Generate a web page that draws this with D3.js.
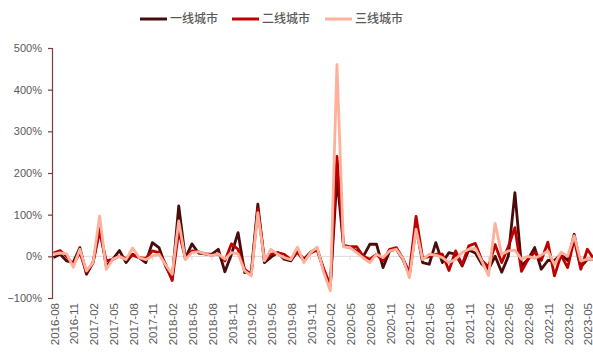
<!DOCTYPE html>
<html>
<head>
<meta charset="utf-8">
<script src="https://cdn.jsdelivr.net/npm/d3@7"></script>
<style>
  html, body { margin: 0; padding: 0; background: #fff; }
  svg { display: block; }
  text { font-family: "Liberation Sans", Arial, sans-serif; fill: #595959; }
  .legend text { font-family: "Noto Sans CJK SC", sans-serif; }
</style>
</head>
<body>
<script>
// Monthly growth rates (%), 2016-08 .. 2023-06
const startYear = 2016, startMonth = 8, monthCount = 83;
const months = Array.from({length: monthCount}, (_, i) => {
  const m = startMonth - 1 + i;
  return `${startYear + Math.floor(m / 12)}-${String(m % 12 + 1).padStart(2, "0")}`;
});

const tier1 = [-3, 5, -11, -15, 21, -43, -15, 69, -23, -7, 14, -15, 5, -3, -15, 33, 21, -23, -55, 121,
  -5, 30, 8, 6, 5, 17, -37, 5, 57, -39, -39, 125, -15, -2, 9, -7, -11, 12, -7, 10,
  19, -35, -71, 190, 25, 21, 13, 0, 29, 29, -27, 13, 17, -7, -45, 69, -15, -19, 33, -15,
  9, 5, -23, 15, 8, -19, -31, 0, -38, 0, 153, -23, -7, 21, -31, -10, -10, 5, -10, 53,
  -25, -7, -7];
const tier2 = [8, 14, 0, -20, 9, -38, -15, 60, -11, -7, 0, -5, 3, -3, -5, 13, 9, -18, -58, 61,
  -5, 13, 11, 6, 3, 6, -11, 30, 17, -31, -43, 113, -7, 5, 9, 5, -8, 10, -11, 8,
  15, -30, -71, 240, 27, 23, 23, 0, -7, 5, -11, 17, 21, -5, -39, 96, -5, 0, 5, 5,
  -34, 13, -20, 25, 31, -10, -25, 28, -15, 23, 69, -36, -7, 10, -10, 34, -47, 3, -27, 41,
  -31, 17, -7];
const tier3 = [5, 8, 6, -26, 17, -35, -15, 97, -31, -7, 0, -8, 20, -3, -8, 1, 5, -20, -43, 85,
  -8, 9, 11, 6, 2, 6, -7, 9, 6, -35, -47, 105, -11, 17, 5, -3, -8, 22, -15, 9,
  22, -39, -83, 460, 23, 21, 9, -4, -15, 5, -3, 13, 17, -5, -51, 65, -8, 5, 3, -3,
  -15, -7, 9, 17, 19, -12, -46, 79, 5, 13, 15, -7, 0, -5, 3, 13, -20, 10, 0, 49,
  -11, -7, -7];

const seriesNames = ["一线城市", "二线城市", "三线城市"];
const seriesColors = ["#4a0b0b", "#c00000", "#ffb09a"];
const seriesValues = [tier1, tier2, tier3];
const yTicks = [-100, 0, 100, 200, 300, 400, 500];
const xTickLabels = months.filter((_, i) => i % 3 === 0);

const W = 593, H = 358;
const svg = d3.select("body").append("svg").attr("width", W).attr("height", H);

const x = d3.scalePoint().domain(months).range([53.5, 594]);
const y = d3.scaleLinear().domain([-100, 500]).range([298, 48]);

// zero baseline with month ticks
svg.append("line")
  .attr("x1", 52).attr("x2", W).attr("y1", y(0)).attr("y2", y(0))
  .attr("stroke", "#d9d9d9").attr("stroke-width", 1);
svg.append("g").selectAll("line").data(xTickLabels).join("line")
  .attr("x1", d => x(d)).attr("x2", d => x(d))
  .attr("y1", y(0)).attr("y2", y(0) + 4)
  .attr("stroke", "#d9d9d9");

// y axis
const yAxis = d3.axisLeft(y).tickValues(yTicks).tickSize(4).tickPadding(6)
  .tickFormat(d => (d < 0 ? "\u2212" + Math.abs(d) : d) + "%");
const gy = svg.append("g").attr("transform", "translate(52,0)").call(yAxis);
gy.select(".domain").attr("stroke", "#7a3c3c").attr("stroke-width", 1.2);
gy.selectAll(".tick line").attr("stroke", "#7a3c3c").attr("stroke-width", 1.2);
gy.selectAll(".tick text").attr("font-size", 11).style("fill", "#595959")
  .attr("font-family", "Liberation Sans, Arial, sans-serif");

// rotated month labels
svg.append("g").selectAll("text").data(xTickLabels).join("text")
  .attr("transform", d => `translate(${x(d) + 1},303) rotate(-90)`)
  .attr("text-anchor", "end").attr("dy", "0.35em")
  .attr("font-size", 11.5)
  .text(d => d);

// series lines
const line = d3.line().x((d, i) => x(months[i])).y(d => y(d));
svg.append("g").selectAll("path").data(seriesValues).join("path")
  .attr("d", d => line(d))
  .attr("fill", "none")
  .attr("stroke", (d, i) => seriesColors[i])
  .attr("stroke-width", 2.8)
  .attr("stroke-linejoin", "round");

// legend
const legendX = [140, 232, 325];
const lg = svg.append("g").attr("class", "legend");
seriesNames.forEach((name, i) => {
  lg.append("line")
    .attr("x1", legendX[i]).attr("x2", legendX[i] + 27)
    .attr("y1", 19).attr("y2", 19)
    .attr("stroke", seriesColors[i]).attr("stroke-width", 3);
  lg.append("text")
    .attr("x", legendX[i] + 30).attr("y", 19).attr("dy", "0.35em")
    .attr("font-size", 12).attr("font-weight", 500)
    .text(name);
});
</script>
</body>
</html>
